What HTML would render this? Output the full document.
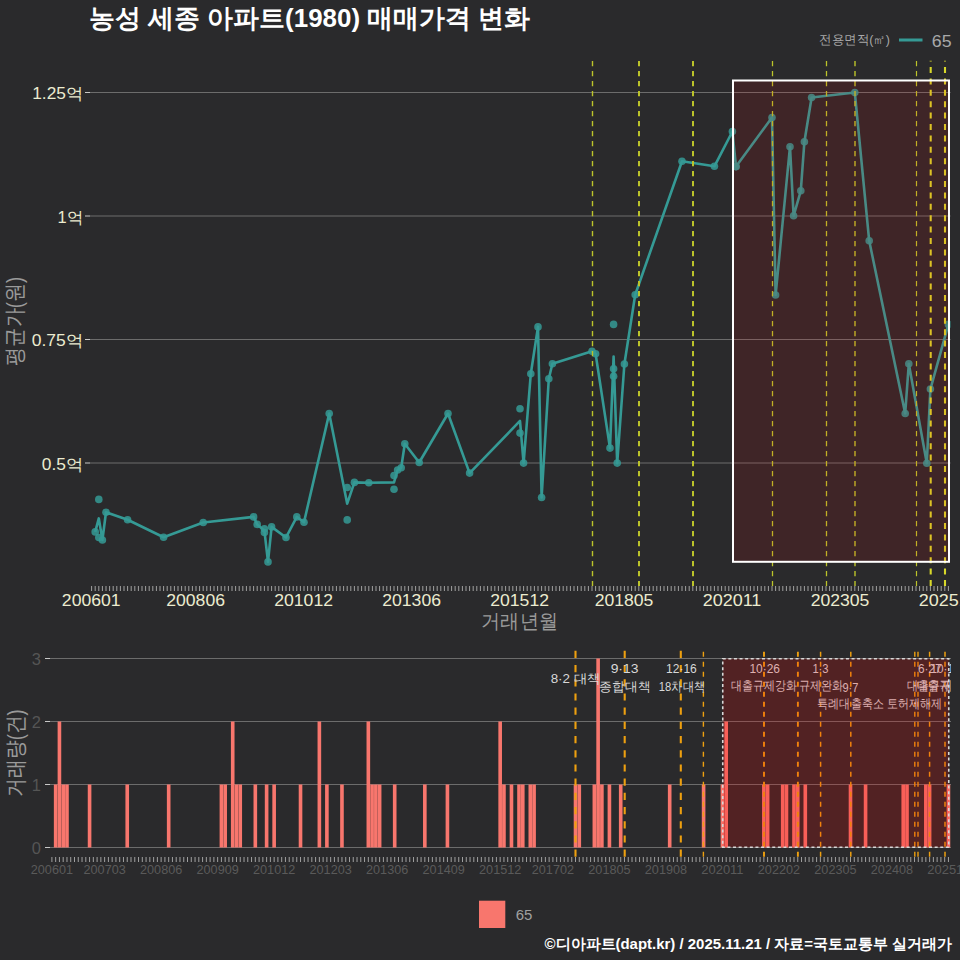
<!DOCTYPE html><html><head><meta charset="utf-8"><style>
html,body{margin:0;padding:0;background:#2a2a2c;width:960px;height:960px;overflow:hidden}
svg{display:block}text{font-family:"Liberation Sans",sans-serif}
</style></head><body>
<svg width="960" height="960" viewBox="0 0 960 960">
<rect x="0" y="0" width="960" height="960" fill="#2a2a2c"/>
<defs><clipPath id="ct"><rect x="90" y="60.5" width="860.5" height="525.5"/></clipPath>
<clipPath id="cb"><rect x="50" y="650" width="901" height="207.2"/></clipPath></defs>
<text x="309.60" y="27.00" fill="#ffffff" font-size="26.00" font-weight="bold" text-anchor="middle" textLength="440.70" lengthAdjust="spacingAndGlyphs">농성 세종 아파트(1980) 매매가격 변화</text>
<text x="854.60" y="44.00" fill="#a8a8a8" font-size="13.00" text-anchor="middle" textLength="70.70" lengthAdjust="spacingAndGlyphs">전용면적(㎡)</text>
<line x1="899" y1="40" x2="922.5" y2="40" stroke="#359a95" stroke-width="3"/>
<text x="941.65" y="46.70" fill="#a8a8a8" font-size="16.00" text-anchor="middle" textLength="19.80" lengthAdjust="spacingAndGlyphs">65</text>
<line x1="90" y1="92.5" x2="950.5" y2="92.5" stroke="#6c6c6c" stroke-width="1"/>
<line x1="85" y1="92.5" x2="90" y2="92.5" stroke="#c8c8c8" stroke-width="1"/>
<text x="57.73" y="99.30" fill="#ececd0" font-size="16.00" text-anchor="middle" textLength="50.95" lengthAdjust="spacingAndGlyphs">1.25억</text>
<line x1="90" y1="216.0" x2="950.5" y2="216.0" stroke="#6c6c6c" stroke-width="1"/>
<line x1="85" y1="216.0" x2="90" y2="216.0" stroke="#c8c8c8" stroke-width="1"/>
<text x="70.38" y="222.80" fill="#ececd0" font-size="16.00" text-anchor="middle" textLength="25.65" lengthAdjust="spacingAndGlyphs">1억</text>
<line x1="90" y1="339.5" x2="950.5" y2="339.5" stroke="#6c6c6c" stroke-width="1"/>
<line x1="85" y1="339.5" x2="90" y2="339.5" stroke="#c8c8c8" stroke-width="1"/>
<text x="57.48" y="346.30" fill="#ececd0" font-size="16.00" text-anchor="middle" textLength="51.45" lengthAdjust="spacingAndGlyphs">0.75억</text>
<line x1="90" y1="463.0" x2="950.5" y2="463.0" stroke="#6c6c6c" stroke-width="1"/>
<line x1="85" y1="463.0" x2="90" y2="463.0" stroke="#c8c8c8" stroke-width="1"/>
<text x="62.48" y="469.80" fill="#ececd0" font-size="16.00" text-anchor="middle" textLength="41.45" lengthAdjust="spacingAndGlyphs">0.5억</text>
<g transform="translate(22.3,321.25) rotate(-90)">
<text x="0.00" y="0.00" fill="#9a9a9a" font-size="21.50" text-anchor="middle" textLength="89.00" lengthAdjust="spacingAndGlyphs">평균가(원)</text>
</g>
<path d="M91.60 586v5M95.20 586v5M98.80 586v5M102.40 586v5M106.00 586v5M109.60 586v5M113.20 586v5M116.80 586v5M120.40 586v5M124.00 586v5M127.60 586v5M131.20 586v5M134.80 586v5M138.40 586v5M142.00 586v5M145.60 586v5M149.20 586v5M152.80 586v5M156.40 586v5M160.00 586v5M163.60 586v5M167.20 586v5M170.80 586v5M174.40 586v5M178.00 586v5M181.60 586v5M185.20 586v5M188.80 586v5M192.40 586v5M196.00 586v5M199.60 586v5M203.20 586v5M206.80 586v5M210.40 586v5M214.00 586v5M217.60 586v5M221.20 586v5M224.80 586v5M228.40 586v5M232.00 586v5M235.60 586v5M239.20 586v5M242.80 586v5M246.40 586v5M250.00 586v5M253.60 586v5M257.20 586v5M260.80 586v5M264.40 586v5M268.00 586v5M271.60 586v5M275.20 586v5M278.80 586v5M282.40 586v5M286.00 586v5M289.60 586v5M293.20 586v5M296.80 586v5M300.40 586v5M304.00 586v5M307.60 586v5M311.20 586v5M314.80 586v5M318.40 586v5M322.00 586v5M325.60 586v5M329.20 586v5M332.80 586v5M336.40 586v5M340.00 586v5M343.60 586v5M347.20 586v5M350.80 586v5M354.40 586v5M358.00 586v5M361.60 586v5M365.20 586v5M368.80 586v5M372.40 586v5M376.00 586v5M379.60 586v5M383.20 586v5M386.80 586v5M390.40 586v5M394.00 586v5M397.60 586v5M401.20 586v5M404.80 586v5M408.40 586v5M412.00 586v5M415.60 586v5M419.20 586v5M422.80 586v5M426.40 586v5M430.00 586v5M433.60 586v5M437.20 586v5M440.80 586v5M444.40 586v5M448.00 586v5M451.60 586v5M455.20 586v5M458.80 586v5M462.40 586v5M466.00 586v5M469.60 586v5M473.20 586v5M476.80 586v5M480.40 586v5M484.00 586v5M487.60 586v5M491.20 586v5M494.80 586v5M498.40 586v5M502.00 586v5M505.60 586v5M509.20 586v5M512.80 586v5M516.40 586v5M520.00 586v5M523.60 586v5M527.20 586v5M530.80 586v5M534.40 586v5M538.00 586v5M541.60 586v5M545.20 586v5M548.80 586v5M552.40 586v5M556.00 586v5M559.60 586v5M563.20 586v5M566.80 586v5M570.40 586v5M574.00 586v5M577.60 586v5M581.20 586v5M584.80 586v5M588.40 586v5M592.00 586v5M595.60 586v5M599.20 586v5M602.80 586v5M606.40 586v5M610.00 586v5M613.60 586v5M617.20 586v5M620.80 586v5M624.40 586v5M628.00 586v5M631.60 586v5M635.20 586v5M638.80 586v5M642.40 586v5M646.00 586v5M649.60 586v5M653.20 586v5M656.80 586v5M660.40 586v5M664.00 586v5M667.60 586v5M671.20 586v5M674.80 586v5M678.40 586v5M682.00 586v5M685.60 586v5M689.20 586v5M692.80 586v5M696.40 586v5M700.00 586v5M703.60 586v5M707.20 586v5M710.80 586v5M714.40 586v5M718.00 586v5M721.60 586v5M725.20 586v5M728.80 586v5M732.40 586v5M736.00 586v5M739.60 586v5M743.20 586v5M746.80 586v5M750.40 586v5M754.00 586v5M757.60 586v5M761.20 586v5M764.80 586v5M768.40 586v5M772.00 586v5M775.60 586v5M779.20 586v5M782.80 586v5M786.40 586v5M790.00 586v5M793.60 586v5M797.20 586v5M800.80 586v5M804.40 586v5M808.00 586v5M811.60 586v5M815.20 586v5M818.80 586v5M822.40 586v5M826.00 586v5M829.60 586v5M833.20 586v5M836.80 586v5M840.40 586v5M844.00 586v5M847.60 586v5M851.20 586v5M854.80 586v5M858.40 586v5M862.00 586v5M865.60 586v5M869.20 586v5M872.80 586v5M876.40 586v5M880.00 586v5M883.60 586v5M887.20 586v5M890.80 586v5M894.40 586v5M898.00 586v5M901.60 586v5M905.20 586v5M908.80 586v5M912.40 586v5M916.00 586v5M919.60 586v5M923.20 586v5M926.80 586v5M930.40 586v5M934.00 586v5M937.60 586v5M941.20 586v5M944.80 586v5M948.40 586v5" stroke="#a0a0a0" stroke-width="1"/>
<text x="91.20" y="606.00" fill="#ececd0" font-size="16.00" text-anchor="middle" textLength="58.70" lengthAdjust="spacingAndGlyphs">200601</text>
<text x="195.60" y="606.00" fill="#ececd0" font-size="16.00" text-anchor="middle" textLength="58.70" lengthAdjust="spacingAndGlyphs">200806</text>
<text x="303.60" y="606.00" fill="#ececd0" font-size="16.00" text-anchor="middle" textLength="58.70" lengthAdjust="spacingAndGlyphs">201012</text>
<text x="411.60" y="606.00" fill="#ececd0" font-size="16.00" text-anchor="middle" textLength="58.70" lengthAdjust="spacingAndGlyphs">201306</text>
<text x="519.60" y="606.00" fill="#ececd0" font-size="16.00" text-anchor="middle" textLength="58.70" lengthAdjust="spacingAndGlyphs">201512</text>
<text x="624.00" y="606.00" fill="#ececd0" font-size="16.00" text-anchor="middle" textLength="58.70" lengthAdjust="spacingAndGlyphs">201805</text>
<text x="732.00" y="606.00" fill="#ececd0" font-size="16.00" text-anchor="middle" textLength="58.70" lengthAdjust="spacingAndGlyphs">202011</text>
<text x="840.00" y="606.00" fill="#ececd0" font-size="16.00" text-anchor="middle" textLength="58.70" lengthAdjust="spacingAndGlyphs">202305</text>
<text x="948.00" y="606.00" fill="#ececd0" font-size="16.00" text-anchor="middle" textLength="58.70" lengthAdjust="spacingAndGlyphs">202511</text>
<text x="519.50" y="628.00" fill="#9a9a9a" font-size="20.00" text-anchor="middle" textLength="76.50" lengthAdjust="spacingAndGlyphs">거래년월</text>
<g clip-path="url(#ct)">
<polyline points="95.20,531.90 98.80,518.45 102.40,540.00 106.00,512.25 127.60,519.75 163.60,537.25 203.20,522.50 253.60,516.90 257.20,524.40 264.40,530.62 268.00,561.90 271.60,526.90 286.00,537.50 296.80,516.90 304.00,522.25 329.20,413.60 347.20,503.70 354.40,482.40 368.80,482.80 394.00,482.35 397.60,470.00 401.20,467.80 404.80,443.70 419.20,462.50 448.00,413.50 469.60,473.10 520.00,420.93 523.60,463.10 530.80,373.75 538.00,326.90 541.60,497.50 548.80,378.75 552.40,363.75 592.00,351.25 595.60,353.75 610.00,448.10 613.60,356.47 617.20,463.10 624.40,364.00 635.20,294.70 682.00,161.30 714.40,166.30 732.40,131.50 736.00,166.60 772.00,117.50 775.60,295.00 790.00,146.70 793.60,215.80 800.80,190.80 804.40,141.70 811.60,97.50 854.80,92.50 869.20,240.80 905.20,413.50 908.80,363.80 926.80,463.20 930.40,389.10 948.40,324.40" fill="none" stroke="#359a95" stroke-width="2.6" stroke-linejoin="round"/>
<circle cx="95.20" cy="531.90" r="3.8" fill="#359a95" fill-opacity="0.85"/>
<circle cx="98.80" cy="499.40" r="3.8" fill="#359a95" fill-opacity="0.85"/>
<circle cx="98.80" cy="537.50" r="3.8" fill="#359a95" fill-opacity="0.85"/>
<circle cx="102.40" cy="540.00" r="3.8" fill="#359a95" fill-opacity="0.85"/>
<circle cx="106.00" cy="512.25" r="3.8" fill="#359a95" fill-opacity="0.85"/>
<circle cx="127.60" cy="519.75" r="3.8" fill="#359a95" fill-opacity="0.85"/>
<circle cx="163.60" cy="537.25" r="3.8" fill="#359a95" fill-opacity="0.85"/>
<circle cx="203.20" cy="522.50" r="3.8" fill="#359a95" fill-opacity="0.85"/>
<circle cx="253.60" cy="516.90" r="3.8" fill="#359a95" fill-opacity="0.85"/>
<circle cx="257.20" cy="524.40" r="3.8" fill="#359a95" fill-opacity="0.85"/>
<circle cx="264.40" cy="528.75" r="3.8" fill="#359a95" fill-opacity="0.85"/>
<circle cx="264.40" cy="532.50" r="3.8" fill="#359a95" fill-opacity="0.85"/>
<circle cx="268.00" cy="561.90" r="3.8" fill="#359a95" fill-opacity="0.85"/>
<circle cx="271.60" cy="526.90" r="3.8" fill="#359a95" fill-opacity="0.85"/>
<circle cx="286.00" cy="537.50" r="3.8" fill="#359a95" fill-opacity="0.85"/>
<circle cx="296.80" cy="516.90" r="3.8" fill="#359a95" fill-opacity="0.85"/>
<circle cx="304.00" cy="522.25" r="3.8" fill="#359a95" fill-opacity="0.85"/>
<circle cx="329.20" cy="413.60" r="3.8" fill="#359a95" fill-opacity="0.85"/>
<circle cx="347.20" cy="487.50" r="3.8" fill="#359a95" fill-opacity="0.85"/>
<circle cx="347.20" cy="519.90" r="3.8" fill="#359a95" fill-opacity="0.85"/>
<circle cx="354.40" cy="482.40" r="3.8" fill="#359a95" fill-opacity="0.85"/>
<circle cx="368.80" cy="482.80" r="3.8" fill="#359a95" fill-opacity="0.85"/>
<circle cx="394.00" cy="489.20" r="3.8" fill="#359a95" fill-opacity="0.85"/>
<circle cx="394.00" cy="475.50" r="3.8" fill="#359a95" fill-opacity="0.85"/>
<circle cx="397.60" cy="470.00" r="3.8" fill="#359a95" fill-opacity="0.85"/>
<circle cx="401.20" cy="467.80" r="3.8" fill="#359a95" fill-opacity="0.85"/>
<circle cx="404.80" cy="443.70" r="3.8" fill="#359a95" fill-opacity="0.85"/>
<circle cx="419.20" cy="462.50" r="3.8" fill="#359a95" fill-opacity="0.85"/>
<circle cx="448.00" cy="413.50" r="3.8" fill="#359a95" fill-opacity="0.85"/>
<circle cx="469.60" cy="473.10" r="3.8" fill="#359a95" fill-opacity="0.85"/>
<circle cx="520.00" cy="408.75" r="3.8" fill="#359a95" fill-opacity="0.85"/>
<circle cx="520.00" cy="433.10" r="3.8" fill="#359a95" fill-opacity="0.85"/>
<circle cx="523.60" cy="463.10" r="3.8" fill="#359a95" fill-opacity="0.85"/>
<circle cx="530.80" cy="373.75" r="3.8" fill="#359a95" fill-opacity="0.85"/>
<circle cx="538.00" cy="326.90" r="3.8" fill="#359a95" fill-opacity="0.85"/>
<circle cx="541.60" cy="497.50" r="3.8" fill="#359a95" fill-opacity="0.85"/>
<circle cx="548.80" cy="378.75" r="3.8" fill="#359a95" fill-opacity="0.85"/>
<circle cx="552.40" cy="363.75" r="3.8" fill="#359a95" fill-opacity="0.85"/>
<circle cx="592.00" cy="351.25" r="3.8" fill="#359a95" fill-opacity="0.85"/>
<circle cx="595.60" cy="353.75" r="3.8" fill="#359a95" fill-opacity="0.85"/>
<circle cx="610.00" cy="448.10" r="3.8" fill="#359a95" fill-opacity="0.85"/>
<circle cx="613.60" cy="324.40" r="3.8" fill="#359a95" fill-opacity="0.85"/>
<circle cx="613.60" cy="368.75" r="3.8" fill="#359a95" fill-opacity="0.85"/>
<circle cx="613.60" cy="376.25" r="3.8" fill="#359a95" fill-opacity="0.85"/>
<circle cx="617.20" cy="463.10" r="3.8" fill="#359a95" fill-opacity="0.85"/>
<circle cx="624.40" cy="364.00" r="3.8" fill="#359a95" fill-opacity="0.85"/>
<circle cx="635.20" cy="294.70" r="3.8" fill="#359a95" fill-opacity="0.85"/>
<circle cx="682.00" cy="161.30" r="3.8" fill="#359a95" fill-opacity="0.85"/>
<circle cx="714.40" cy="166.30" r="3.8" fill="#359a95" fill-opacity="0.85"/>
<circle cx="732.40" cy="131.50" r="3.8" fill="#359a95" fill-opacity="0.85"/>
<circle cx="736.00" cy="166.60" r="3.8" fill="#359a95" fill-opacity="0.85"/>
<circle cx="736.00" cy="166.60" r="3.8" fill="#359a95" fill-opacity="0.85"/>
<circle cx="772.00" cy="117.50" r="3.8" fill="#359a95" fill-opacity="0.85"/>
<circle cx="775.60" cy="295.00" r="3.8" fill="#359a95" fill-opacity="0.85"/>
<circle cx="790.00" cy="146.70" r="3.8" fill="#359a95" fill-opacity="0.85"/>
<circle cx="793.60" cy="215.80" r="3.8" fill="#359a95" fill-opacity="0.85"/>
<circle cx="800.80" cy="190.80" r="3.8" fill="#359a95" fill-opacity="0.85"/>
<circle cx="804.40" cy="141.70" r="3.8" fill="#359a95" fill-opacity="0.85"/>
<circle cx="811.60" cy="97.50" r="3.8" fill="#359a95" fill-opacity="0.85"/>
<circle cx="854.80" cy="92.50" r="3.8" fill="#359a95" fill-opacity="0.85"/>
<circle cx="869.20" cy="240.80" r="3.8" fill="#359a95" fill-opacity="0.85"/>
<circle cx="905.20" cy="413.50" r="3.8" fill="#359a95" fill-opacity="0.85"/>
<circle cx="908.80" cy="363.80" r="3.8" fill="#359a95" fill-opacity="0.85"/>
<circle cx="926.80" cy="463.20" r="3.8" fill="#359a95" fill-opacity="0.85"/>
<circle cx="930.40" cy="389.10" r="3.8" fill="#359a95" fill-opacity="0.85"/>
<circle cx="948.40" cy="324.40" r="3.8" fill="#359a95" fill-opacity="0.85"/>
<line x1="592.5" y1="61" x2="592.5" y2="586" stroke="#bcc42a" stroke-width="1.4" stroke-dasharray="5.2 4.8"/>
<line x1="639.0" y1="61" x2="639.0" y2="586" stroke="#bcc42a" stroke-width="2.0" stroke-dasharray="5.2 4.8"/>
<line x1="693.0" y1="61" x2="693.0" y2="586" stroke="#bcc42a" stroke-width="2.0" stroke-dasharray="5.2 4.8"/>
<line x1="772.5" y1="61" x2="772.5" y2="586" stroke="#bcc42a" stroke-width="1.3" stroke-dasharray="5.2 4.8"/>
<line x1="826.5" y1="61" x2="826.5" y2="586" stroke="#bcc42a" stroke-width="1.3" stroke-dasharray="5.2 4.8"/>
<line x1="855.0" y1="61" x2="855.0" y2="586" stroke="#bcc42a" stroke-width="1.4" stroke-dasharray="5.2 4.8"/>
<line x1="916.5" y1="61" x2="916.5" y2="586" stroke="#bcc42a" stroke-width="1.2" stroke-dasharray="5.2 4.8"/>
<line x1="930.7" y1="586" x2="930.7" y2="60.5" stroke="#d8d82a" stroke-width="2.1" stroke-dasharray="6 5.4"/>
<line x1="945.0" y1="586" x2="945.0" y2="60.5" stroke="#d8d82a" stroke-width="2.1" stroke-dasharray="6 5.4"/>
<rect x="733" y="80.5" width="216" height="481.3" fill="#ff0000" fill-opacity="0.1" stroke="#ffffff" stroke-width="2"/>
</g>
<line x1="50" y1="658.5" x2="951" y2="658.5" stroke="#6c6c6c" stroke-width="1"/>
<line x1="45" y1="658.5" x2="50" y2="658.5" stroke="#c8c8c8" stroke-width="1"/>
<text x="41" y="664.7" fill="#555555" font-size="16.5" text-anchor="end">3</text>
<line x1="50" y1="721.5" x2="951" y2="721.5" stroke="#6c6c6c" stroke-width="1"/>
<line x1="45" y1="721.5" x2="50" y2="721.5" stroke="#c8c8c8" stroke-width="1"/>
<text x="41" y="727.7" fill="#555555" font-size="16.5" text-anchor="end">2</text>
<line x1="50" y1="784.5" x2="951" y2="784.5" stroke="#6c6c6c" stroke-width="1"/>
<line x1="45" y1="784.5" x2="50" y2="784.5" stroke="#c8c8c8" stroke-width="1"/>
<text x="41" y="790.7" fill="#555555" font-size="16.5" text-anchor="end">1</text>
<line x1="50" y1="847.5" x2="951" y2="847.5" stroke="#6c6c6c" stroke-width="1"/>
<line x1="45" y1="847.5" x2="50" y2="847.5" stroke="#c8c8c8" stroke-width="1"/>
<text x="41" y="853.7" fill="#555555" font-size="16.5" text-anchor="end">0</text>
<g transform="translate(22.8,753) rotate(-90)">
<text x="0.00" y="0.00" fill="#9a9a9a" font-size="21.50" text-anchor="middle" textLength="87.50" lengthAdjust="spacingAndGlyphs">거래량(건)</text>
</g>
<path d="M51.90 857v5M55.67 857v5M59.43 857v5M63.20 857v5M66.97 857v5M70.73 857v5M74.50 857v5M78.27 857v5M82.04 857v5M85.80 857v5M89.57 857v5M93.34 857v5M97.10 857v5M100.87 857v5M104.64 857v5M108.41 857v5M112.17 857v5M115.94 857v5M119.71 857v5M123.47 857v5M127.24 857v5M131.01 857v5M134.77 857v5M138.54 857v5M142.31 857v5M146.07 857v5M149.84 857v5M153.61 857v5M157.38 857v5M161.14 857v5M164.91 857v5M168.68 857v5M172.44 857v5M176.21 857v5M179.98 857v5M183.75 857v5M187.51 857v5M191.28 857v5M195.05 857v5M198.81 857v5M202.58 857v5M206.35 857v5M210.11 857v5M213.88 857v5M217.65 857v5M221.41 857v5M225.18 857v5M228.95 857v5M232.72 857v5M236.48 857v5M240.25 857v5M244.02 857v5M247.78 857v5M251.55 857v5M255.32 857v5M259.08 857v5M262.85 857v5M266.62 857v5M270.39 857v5M274.15 857v5M277.92 857v5M281.69 857v5M285.45 857v5M289.22 857v5M292.99 857v5M296.75 857v5M300.52 857v5M304.29 857v5M308.06 857v5M311.82 857v5M315.59 857v5M319.36 857v5M323.12 857v5M326.89 857v5M330.66 857v5M334.42 857v5M338.19 857v5M341.96 857v5M345.73 857v5M349.49 857v5M353.26 857v5M357.03 857v5M360.79 857v5M364.56 857v5M368.33 857v5M372.09 857v5M375.86 857v5M379.63 857v5M383.40 857v5M387.16 857v5M390.93 857v5M394.70 857v5M398.46 857v5M402.23 857v5M406.00 857v5M409.76 857v5M413.53 857v5M417.30 857v5M421.07 857v5M424.83 857v5M428.60 857v5M432.37 857v5M436.13 857v5M439.90 857v5M443.67 857v5M447.43 857v5M451.20 857v5M454.97 857v5M458.74 857v5M462.50 857v5M466.27 857v5M470.04 857v5M473.80 857v5M477.57 857v5M481.34 857v5M485.10 857v5M488.87 857v5M492.64 857v5M496.41 857v5M500.17 857v5M503.94 857v5M507.71 857v5M511.47 857v5M515.24 857v5M519.01 857v5M522.77 857v5M526.54 857v5M530.31 857v5M534.08 857v5M537.84 857v5M541.61 857v5M545.38 857v5M549.14 857v5M552.91 857v5M556.68 857v5M560.44 857v5M564.21 857v5M567.98 857v5M571.75 857v5M575.51 857v5M579.28 857v5M583.05 857v5M586.81 857v5M590.58 857v5M594.35 857v5M598.12 857v5M601.88 857v5M605.65 857v5M609.42 857v5M613.18 857v5M616.95 857v5M620.72 857v5M624.48 857v5M628.25 857v5M632.02 857v5M635.78 857v5M639.55 857v5M643.32 857v5M647.09 857v5M650.85 857v5M654.62 857v5M658.39 857v5M662.15 857v5M665.92 857v5M669.69 857v5M673.45 857v5M677.22 857v5M680.99 857v5M684.76 857v5M688.52 857v5M692.29 857v5M696.06 857v5M699.82 857v5M703.59 857v5M707.36 857v5M711.12 857v5M714.89 857v5M718.66 857v5M722.43 857v5M726.19 857v5M729.96 857v5M733.73 857v5M737.49 857v5M741.26 857v5M745.03 857v5M748.79 857v5M752.56 857v5M756.33 857v5M760.10 857v5M763.86 857v5M767.63 857v5M771.40 857v5M775.16 857v5M778.93 857v5M782.70 857v5M786.46 857v5M790.23 857v5M794.00 857v5M797.77 857v5M801.53 857v5M805.30 857v5M809.07 857v5M812.83 857v5M816.60 857v5M820.37 857v5M824.13 857v5M827.90 857v5M831.67 857v5M835.44 857v5M839.20 857v5M842.97 857v5M846.74 857v5M850.50 857v5M854.27 857v5M858.04 857v5M861.80 857v5M865.57 857v5M869.34 857v5M873.11 857v5M876.87 857v5M880.64 857v5M884.41 857v5M888.17 857v5M891.94 857v5M895.71 857v5M899.47 857v5M903.24 857v5M907.01 857v5M910.78 857v5M914.54 857v5M918.31 857v5M922.08 857v5M925.84 857v5M929.61 857v5M933.38 857v5M937.14 857v5M940.91 857v5M944.68 857v5M948.45 857v5" stroke="#a0a0a0" stroke-width="1"/>
<text x="51.90" y="873.80" fill="#5a5a5a" font-size="12.00" text-anchor="middle" textLength="42.20" lengthAdjust="spacingAndGlyphs">200601</text>
<text x="104.64" y="873.80" fill="#5a5a5a" font-size="12.00" text-anchor="middle" textLength="42.20" lengthAdjust="spacingAndGlyphs">200703</text>
<text x="161.14" y="873.80" fill="#5a5a5a" font-size="12.00" text-anchor="middle" textLength="42.20" lengthAdjust="spacingAndGlyphs">200806</text>
<text x="217.65" y="873.80" fill="#5a5a5a" font-size="12.00" text-anchor="middle" textLength="42.20" lengthAdjust="spacingAndGlyphs">200909</text>
<text x="274.15" y="873.80" fill="#5a5a5a" font-size="12.00" text-anchor="middle" textLength="42.20" lengthAdjust="spacingAndGlyphs">201012</text>
<text x="330.66" y="873.80" fill="#5a5a5a" font-size="12.00" text-anchor="middle" textLength="42.20" lengthAdjust="spacingAndGlyphs">201203</text>
<text x="387.16" y="873.80" fill="#5a5a5a" font-size="12.00" text-anchor="middle" textLength="42.20" lengthAdjust="spacingAndGlyphs">201306</text>
<text x="443.67" y="873.80" fill="#5a5a5a" font-size="12.00" text-anchor="middle" textLength="42.20" lengthAdjust="spacingAndGlyphs">201409</text>
<text x="500.17" y="873.80" fill="#5a5a5a" font-size="12.00" text-anchor="middle" textLength="42.20" lengthAdjust="spacingAndGlyphs">201512</text>
<text x="552.91" y="873.80" fill="#5a5a5a" font-size="12.00" text-anchor="middle" textLength="42.20" lengthAdjust="spacingAndGlyphs">201702</text>
<text x="609.42" y="873.80" fill="#5a5a5a" font-size="12.00" text-anchor="middle" textLength="42.20" lengthAdjust="spacingAndGlyphs">201805</text>
<text x="665.92" y="873.80" fill="#5a5a5a" font-size="12.00" text-anchor="middle" textLength="42.20" lengthAdjust="spacingAndGlyphs">201908</text>
<text x="722.43" y="873.80" fill="#5a5a5a" font-size="12.00" text-anchor="middle" textLength="42.20" lengthAdjust="spacingAndGlyphs">202011</text>
<text x="778.93" y="873.80" fill="#5a5a5a" font-size="12.00" text-anchor="middle" textLength="42.20" lengthAdjust="spacingAndGlyphs">202202</text>
<text x="835.44" y="873.80" fill="#5a5a5a" font-size="12.00" text-anchor="middle" textLength="42.20" lengthAdjust="spacingAndGlyphs">202305</text>
<text x="891.94" y="873.80" fill="#5a5a5a" font-size="12.00" text-anchor="middle" textLength="42.20" lengthAdjust="spacingAndGlyphs">202408</text>
<text x="948.45" y="873.80" fill="#5a5a5a" font-size="12.00" text-anchor="middle" textLength="42.20" lengthAdjust="spacingAndGlyphs">202511</text>
<g clip-path="url(#cb)">
<rect x="53.86" y="784.50" width="3.62" height="63.00" fill="#f8766d"/>
<rect x="57.62" y="721.50" width="3.62" height="126.00" fill="#f8766d"/>
<rect x="61.39" y="784.50" width="3.62" height="63.00" fill="#f8766d"/>
<rect x="65.16" y="784.50" width="3.62" height="63.00" fill="#f8766d"/>
<rect x="87.76" y="784.50" width="3.62" height="63.00" fill="#f8766d"/>
<rect x="125.43" y="784.50" width="3.62" height="63.00" fill="#f8766d"/>
<rect x="166.87" y="784.50" width="3.62" height="63.00" fill="#f8766d"/>
<rect x="219.60" y="784.50" width="3.62" height="63.00" fill="#f8766d"/>
<rect x="223.37" y="784.50" width="3.62" height="63.00" fill="#f8766d"/>
<rect x="230.91" y="721.50" width="3.62" height="126.00" fill="#f8766d"/>
<rect x="234.67" y="784.50" width="3.62" height="63.00" fill="#f8766d"/>
<rect x="238.44" y="784.50" width="3.62" height="63.00" fill="#f8766d"/>
<rect x="253.51" y="784.50" width="3.62" height="63.00" fill="#f8766d"/>
<rect x="264.81" y="784.50" width="3.62" height="63.00" fill="#f8766d"/>
<rect x="272.34" y="784.50" width="3.62" height="63.00" fill="#f8766d"/>
<rect x="298.71" y="784.50" width="3.62" height="63.00" fill="#f8766d"/>
<rect x="317.55" y="721.50" width="3.62" height="126.00" fill="#f8766d"/>
<rect x="325.08" y="784.50" width="3.62" height="63.00" fill="#f8766d"/>
<rect x="340.15" y="784.50" width="3.62" height="63.00" fill="#f8766d"/>
<rect x="366.52" y="721.50" width="3.62" height="126.00" fill="#f8766d"/>
<rect x="370.28" y="784.50" width="3.62" height="63.00" fill="#f8766d"/>
<rect x="374.05" y="784.50" width="3.62" height="63.00" fill="#f8766d"/>
<rect x="377.82" y="784.50" width="3.62" height="63.00" fill="#f8766d"/>
<rect x="392.89" y="784.50" width="3.62" height="63.00" fill="#f8766d"/>
<rect x="423.02" y="784.50" width="3.62" height="63.00" fill="#f8766d"/>
<rect x="445.62" y="784.50" width="3.62" height="63.00" fill="#f8766d"/>
<rect x="498.36" y="721.50" width="3.62" height="126.00" fill="#f8766d"/>
<rect x="502.13" y="784.50" width="3.62" height="63.00" fill="#f8766d"/>
<rect x="509.66" y="784.50" width="3.62" height="63.00" fill="#f8766d"/>
<rect x="517.20" y="784.50" width="3.62" height="63.00" fill="#f8766d"/>
<rect x="520.97" y="784.50" width="3.62" height="63.00" fill="#f8766d"/>
<rect x="528.50" y="784.50" width="3.62" height="63.00" fill="#f8766d"/>
<rect x="532.27" y="784.50" width="3.62" height="63.00" fill="#f8766d"/>
<rect x="573.70" y="784.50" width="3.62" height="63.00" fill="#f8766d"/>
<rect x="577.47" y="784.50" width="3.62" height="63.00" fill="#f8766d"/>
<rect x="592.54" y="784.50" width="3.62" height="63.00" fill="#f8766d"/>
<rect x="596.31" y="658.50" width="3.62" height="189.00" fill="#f8766d"/>
<rect x="600.07" y="784.50" width="3.62" height="63.00" fill="#f8766d"/>
<rect x="607.61" y="784.50" width="3.62" height="63.00" fill="#f8766d"/>
<rect x="618.91" y="784.50" width="3.62" height="63.00" fill="#f8766d"/>
<rect x="667.88" y="784.50" width="3.62" height="63.00" fill="#f8766d"/>
<rect x="701.78" y="784.50" width="3.62" height="63.00" fill="#f8766d"/>
<rect x="720.62" y="784.50" width="3.62" height="63.00" fill="#f8766d"/>
<rect x="724.38" y="721.50" width="3.62" height="126.00" fill="#f8766d"/>
<rect x="762.05" y="784.50" width="3.62" height="63.00" fill="#f8766d"/>
<rect x="765.82" y="784.50" width="3.62" height="63.00" fill="#f8766d"/>
<rect x="780.89" y="784.50" width="3.62" height="63.00" fill="#f8766d"/>
<rect x="784.65" y="784.50" width="3.62" height="63.00" fill="#f8766d"/>
<rect x="792.19" y="784.50" width="3.62" height="63.00" fill="#f8766d"/>
<rect x="795.96" y="784.50" width="3.62" height="63.00" fill="#f8766d"/>
<rect x="803.49" y="784.50" width="3.62" height="63.00" fill="#f8766d"/>
<rect x="848.69" y="784.50" width="3.62" height="63.00" fill="#f8766d"/>
<rect x="863.76" y="784.50" width="3.62" height="63.00" fill="#f8766d"/>
<rect x="901.43" y="784.50" width="3.62" height="63.00" fill="#f8766d"/>
<rect x="905.20" y="784.50" width="3.62" height="63.00" fill="#f8766d"/>
<rect x="924.03" y="784.50" width="3.62" height="63.00" fill="#f8766d"/>
<rect x="927.80" y="784.50" width="3.62" height="63.00" fill="#f8766d"/>
<rect x="946.64" y="784.50" width="3.62" height="63.00" fill="#f8766d"/>
<line x1="575.5" y1="650.8" x2="575.5" y2="857.2" stroke="#eea010" stroke-width="2.1" stroke-dasharray="7.2 7"/>
<line x1="624.7" y1="650.8" x2="624.7" y2="857.2" stroke="#eea010" stroke-width="2.1" stroke-dasharray="7.2 7"/>
<line x1="680.8" y1="650.8" x2="680.8" y2="857.2" stroke="#eea010" stroke-width="2.1" stroke-dasharray="7.2 7"/>
<line x1="703.4" y1="651.8" x2="703.4" y2="857.2" stroke="#eea010" stroke-width="1.4" stroke-dasharray="5 5"/>
<line x1="764.0" y1="651.8" x2="764.0" y2="857.2" stroke="#eea010" stroke-width="1.9" stroke-dasharray="5 5"/>
<line x1="797.9" y1="651.8" x2="797.9" y2="857.2" stroke="#eea010" stroke-width="1.9" stroke-dasharray="5 5"/>
<line x1="820.6" y1="651.8" x2="820.6" y2="857.2" stroke="#eea010" stroke-width="1.5" stroke-dasharray="5 5"/>
<line x1="850.8" y1="651.8" x2="850.8" y2="857.2" stroke="#eea010" stroke-width="1.5" stroke-dasharray="5 5"/>
<line x1="914.8" y1="651.8" x2="914.8" y2="857.2" stroke="#eea010" stroke-width="1.4" stroke-dasharray="5 5"/>
<line x1="918.0" y1="651.8" x2="918.0" y2="857.2" stroke="#eea010" stroke-width="1.4" stroke-dasharray="5 5"/>
<line x1="929.6" y1="651.8" x2="929.6" y2="857.2" stroke="#eea010" stroke-width="1.5" stroke-dasharray="5 5"/>
<line x1="945.0" y1="651.8" x2="945.0" y2="857.2" stroke="#eea010" stroke-width="1.5" stroke-dasharray="5 5"/>
<text x="575.62" y="683.00" fill="#d8d8d8" font-size="13.00" text-anchor="middle" textLength="49.95" lengthAdjust="spacingAndGlyphs">8·2 대책</text>
<text x="624.58" y="673.00" fill="#d8d8d8" font-size="13.00" text-anchor="middle" textLength="27.85" lengthAdjust="spacingAndGlyphs">9·13</text>
<text x="625.00" y="691.00" fill="#d8d8d8" font-size="13.00" text-anchor="middle" textLength="51.20" lengthAdjust="spacingAndGlyphs">종합대책</text>
<text x="681.40" y="673.00" fill="#d8d8d8" font-size="13.00" text-anchor="middle" textLength="30.80" lengthAdjust="spacingAndGlyphs">12·16</text>
<text x="681.90" y="690.50" fill="#d8d8d8" font-size="13.00" text-anchor="middle" textLength="46.20" lengthAdjust="spacingAndGlyphs">18차대책</text>
<text x="764.70" y="673.00" fill="#d8d8d8" font-size="13.00" text-anchor="middle" textLength="30.60" lengthAdjust="spacingAndGlyphs">10·26</text>
<text x="764.05" y="690.00" fill="#d8d8d8" font-size="13.00" text-anchor="middle" textLength="66.10" lengthAdjust="spacingAndGlyphs">대출규제강화</text>
<text x="820.50" y="673.00" fill="#d8d8d8" font-size="13.00" text-anchor="middle" textLength="16.20" lengthAdjust="spacingAndGlyphs">1·3</text>
<text x="821.25" y="690.00" fill="#d8d8d8" font-size="13.00" text-anchor="middle" textLength="44.90" lengthAdjust="spacingAndGlyphs">규제완화</text>
<text x="850.35" y="691.50" fill="#d8d8d8" font-size="13.00" text-anchor="middle" textLength="15.90" lengthAdjust="spacingAndGlyphs">9·7</text>
<text x="879.65" y="708.00" fill="#d8d8d8" font-size="13.00" text-anchor="middle" textLength="124.50" lengthAdjust="spacingAndGlyphs">특례대출축소 토허제해제</text>
<text x="929.75" y="673.00" fill="#d8d8d8" font-size="13.00" text-anchor="middle" textLength="23.70" lengthAdjust="spacingAndGlyphs">6·27</text>
<text x="945.50" y="673.00" fill="#d8d8d8" font-size="13.00" text-anchor="middle" textLength="30.20" lengthAdjust="spacingAndGlyphs">10·15</text>
<text x="929.50" y="690.00" fill="#d8d8d8" font-size="13.00" text-anchor="middle" textLength="44.20" lengthAdjust="spacingAndGlyphs">대출규제</text>
<text x="939.50" y="690.00" fill="#d8d8d8" font-size="13.00" text-anchor="middle" textLength="44.20" lengthAdjust="spacingAndGlyphs">대출규제</text>
<rect x="722.75" y="658.75" width="226" height="188.5" fill="#ff0000" fill-opacity="0.19" stroke="#d8d8d8" stroke-width="1.6" stroke-dasharray="3 2.6"/>
</g>
<rect x="479" y="900.7" width="26.3" height="27.3" fill="#f8766d"/>
<text x="523.98" y="919.70" fill="#a0a0a0" font-size="14.00" text-anchor="middle" textLength="16.65" lengthAdjust="spacingAndGlyphs">65</text>
<text x="748.20" y="949.00" fill="#ffffff" font-size="15.00" font-weight="bold" text-anchor="middle" textLength="407.20" lengthAdjust="spacingAndGlyphs">©디아파트(dapt.kr) / 2025.11.21 / 자료=국토교통부 실거래가</text>
</svg></body></html>
